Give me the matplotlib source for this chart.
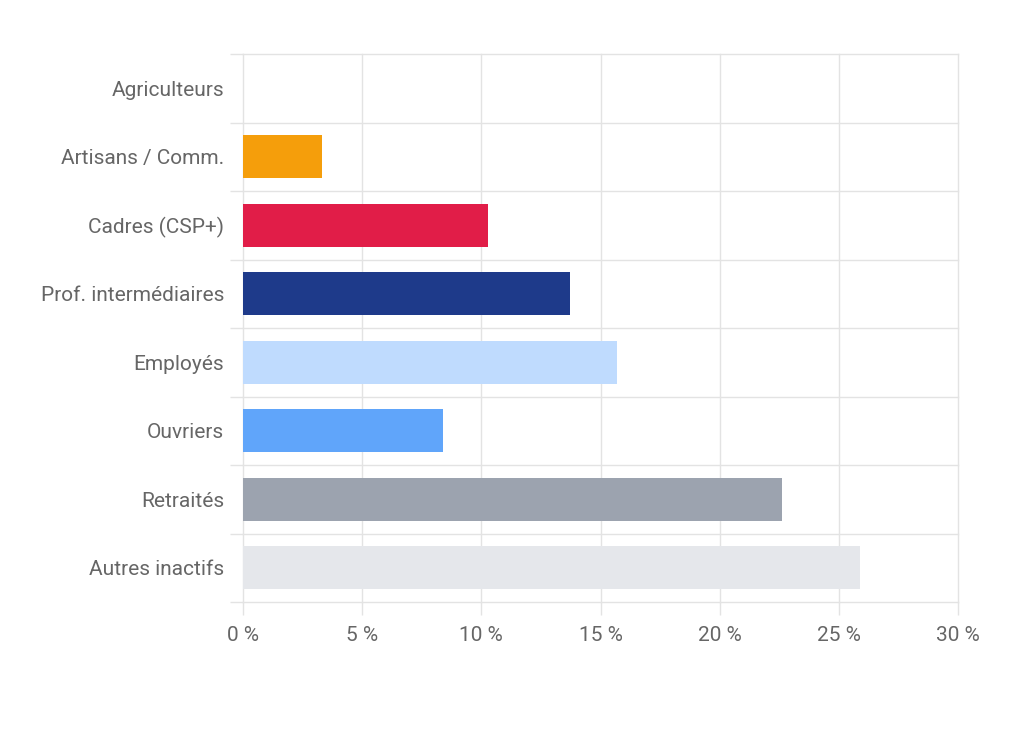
import matplotlib
matplotlib.use("Agg")
import matplotlib.pyplot as plt
import numpy as np

categories = ["Agriculteurs", "Artisans / Comm.", "Cadres (CSP+)", "Prof. intermédiaires",
              "Employés", "Ouvriers", "Retraités", "Autres inactifs"]
values = [0.0, 3.3, 10.3, 13.7, 15.7, 8.4, 22.6, 25.9]
colors = ["#9ca3af", "#f59e0b", "#e11d48", "#1e3a8a", "#bfdbfe", "#60a5fa", "#9ca3af", "#e5e7eb"]
xticks = [0, 5, 10, 15, 20, 25, 30]

plt.rcParams['font.family'] = ['Roboto', 'DejaVu Sans']

fig = plt.figure(figsize=(10.24, 7.47), dpi=100)
ax = fig.add_axes([243 / 1024, 1 - 602 / 747, 715 / 1024, 548 / 747])

y = np.arange(len(categories))
ax.barh(y, values, height=0.63, color=colors, zorder=3)

ax.set_xlim(0, 30)
ax.set_ylim(len(categories) - 0.5, -0.5)
ax.set_xticks(xticks)
ax.set_xticklabels([f"{t} %" for t in xticks])
ax.set_yticks(y)
ax.set_yticklabels(categories)

# row boundaries as grid lines
ax.set_yticks(np.arange(len(categories) + 1) - 0.5, minor=True)
ax.grid(False)
for b in np.arange(len(categories) + 1) - 0.5:
    ax.axhline(b, color="#e3e3e3", lw=1, zorder=1, clip_on=False)
for t in xticks:
    ax.axvline(t, color="#e3e3e3", lw=1, zorder=1, clip_on=False)

for s in ax.spines.values():
    s.set_visible(False)

ax.tick_params(axis="y", which="major", length=0, pad=13.5, labelsize=15, labelcolor="#666666")
ax.tick_params(axis="y", which="minor", length=9.5, color="#e3e3e3", width=1)
ax.tick_params(axis="x", length=9, pad=8, color="#e3e3e3", width=1, labelsize=15, labelcolor="#666666")

fig.savefig("out.png", dpi=100, facecolor="white")
